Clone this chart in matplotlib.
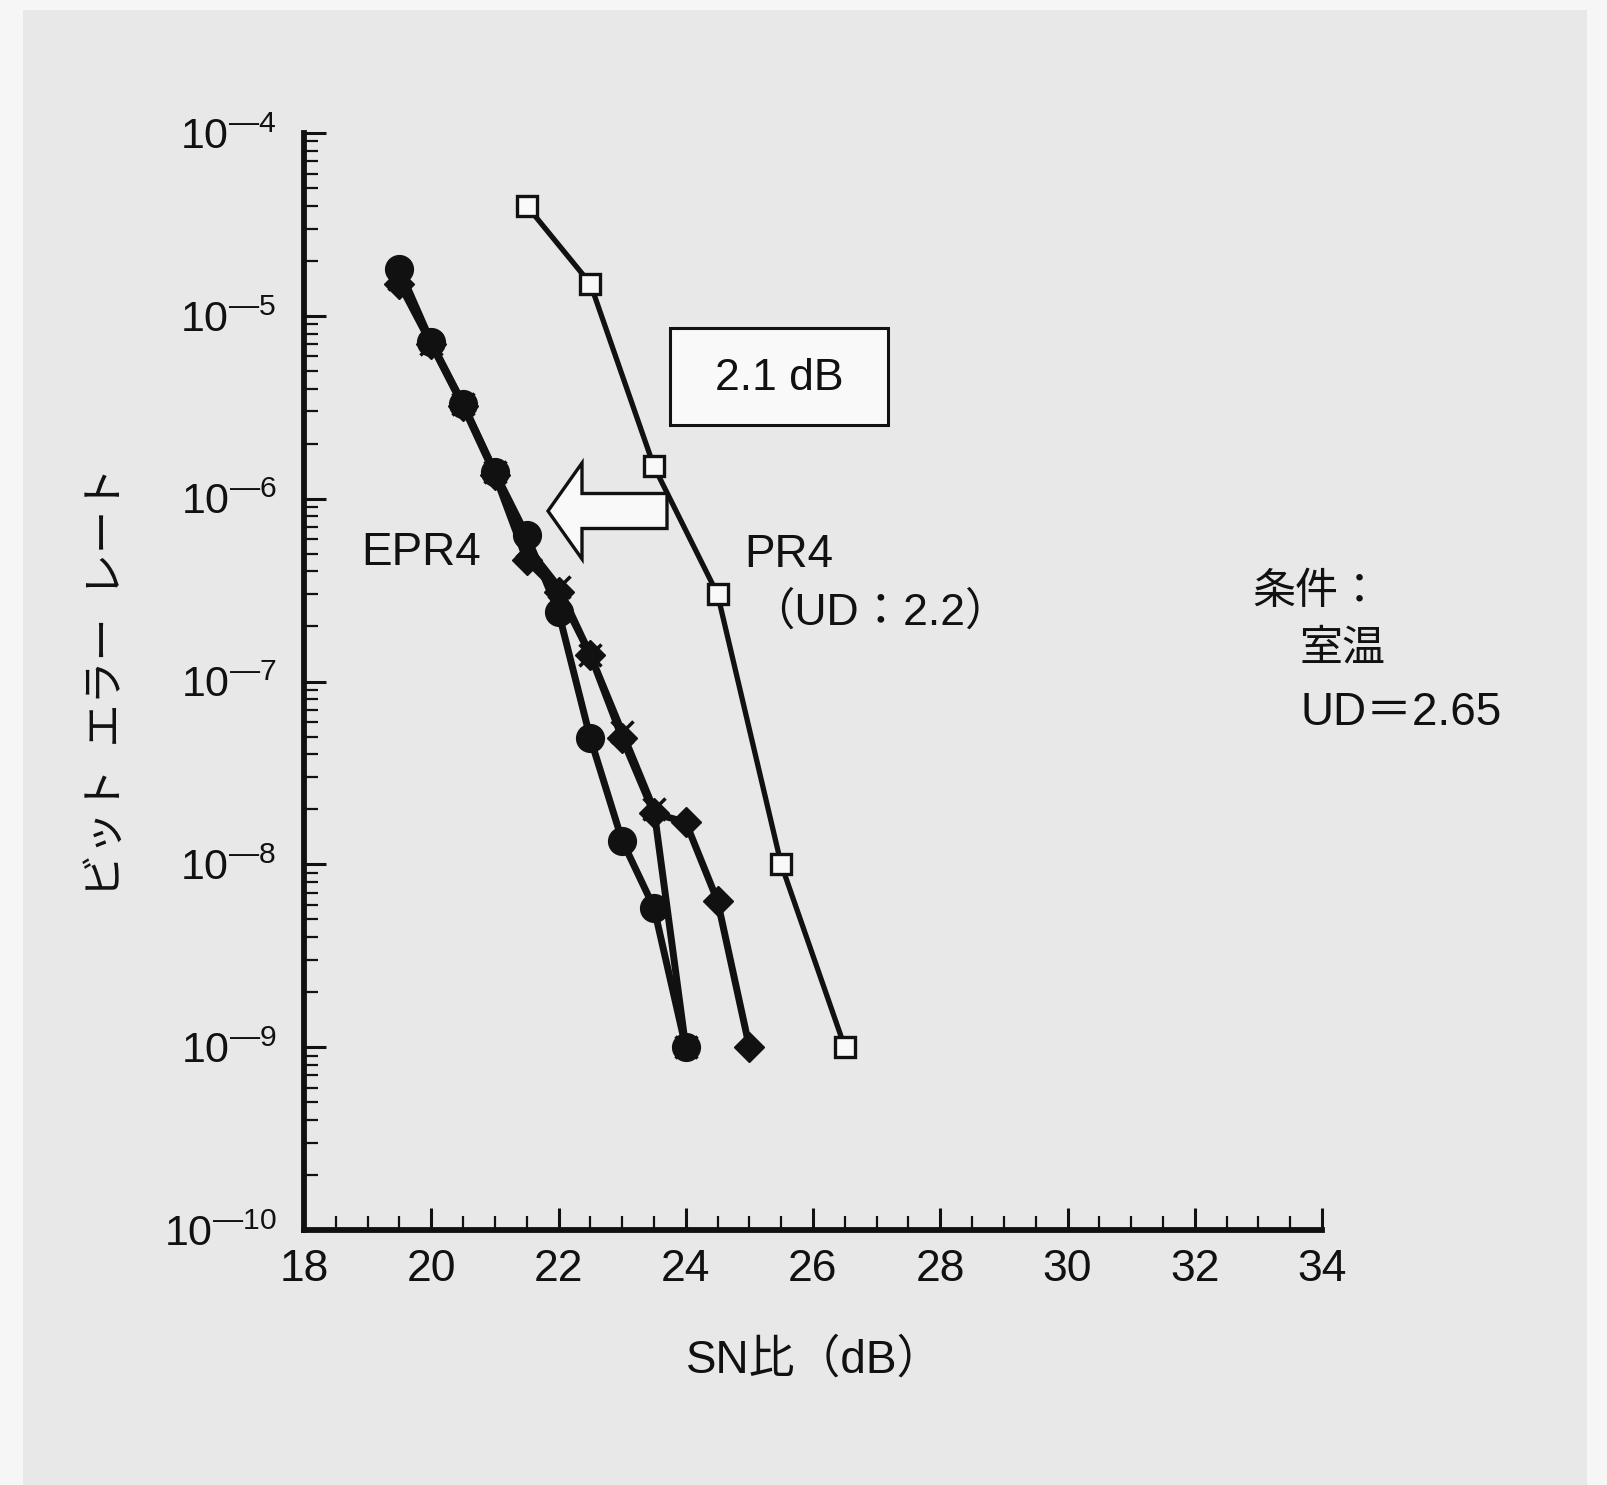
import matplotlib
matplotlib.use('Agg')
import matplotlib.pyplot as plt
from matplotlib.ticker import MultipleLocator, FixedLocator, NullFormatter, FixedFormatter
from matplotlib.patches import Rectangle, Polygon

# ---------------- data ----------------
sn_pr4 = [21.5, 22.5, 23.5, 24.5, 25.5, 26.5]
ber_pr4 = [4.0e-5, 1.5e-5, 1.5e-6, 3.0e-7, 1.0e-8, 1.0e-9]

sn_epr4_circle = [19.5, 20.0, 20.5, 21.0, 21.5, 22.0, 22.5, 23.0, 23.5, 24.0]
ber_epr4_circle = [1.8e-5, 7.2e-6, 3.3e-6, 1.4e-6, 6.3e-7, 2.4e-7, 4.9e-8, 1.35e-8, 5.8e-9, 1.0e-9]

sn_epr4_diamond = [19.5, 20.0, 20.5, 21.0, 21.5, 22.0, 22.5, 23.0, 23.5, 24.0, 24.5, 25.0]
ber_epr4_diamond = [1.5e-5, 7.0e-6, 3.2e-6, 1.35e-6, 4.6e-7, 3.1e-7, 1.4e-7, 4.9e-8, 1.9e-8, 1.7e-8, 6.3e-9, 1.0e-9]

sn_epr4_cross = [19.5, 20.0, 20.5, 21.0, 21.5, 22.0, 22.5, 23.0, 23.5, 24.0]
ber_epr4_cross = [1.6e-5, 7.0e-6, 3.3e-6, 1.4e-6, 5.5e-7, 3.3e-7, 1.4e-7, 5.3e-8, 2.0e-8, 1.0e-9]

x_ticks = [18, 20, 22, 24, 26, 28, 30, 32, 34]
x_tick_labels = ['18', '20', '22', '24', '26', '28', '30', '32', '34']
y_exponents = [-10, -9, -8, -7, -6, -5, -4]

# ---------------- style ----------------
W, H, DPI = 1607, 1485, 100
LATIN = 'Liberation Sans'
MIXED = ['Liberation Sans', 'Noto Sans CJK JP']
plt.rcParams['font.family'] = MIXED
plt.rcParams['mathtext.fontset'] = 'custom'
plt.rcParams['mathtext.rm'] = LATIN
plt.rcParams['mathtext.it'] = LATIN + ':italic'
plt.rcParams['mathtext.bf'] = LATIN + ':bold'

INK = '#111111'
PANEL = '#e8e8e8'
OUTER = '#f6f6f6'
WHITE = '#f9f9f9'

fig = plt.figure(figsize=(W / DPI, H / DPI), dpi=DPI, facecolor=OUTER)


def fp(x, y):
    """figure pixel (from top-left) -> figure fraction"""
    return x / W, 1 - y / H


# gray panel
px0, py0 = fp(23, 1485)
px1, py1 = fp(1587, 10)
fig.add_artist(Rectangle((px0, py0), px1 - px0, py1 - py0, transform=fig.transFigure,
                         facecolor=PANEL, edgecolor='none', zorder=0))

ax_l, ax_t = fp(304, 133)
ax_r, ax_b = fp(1322, 1230)
ax = fig.add_axes([ax_l, ax_b, ax_r - ax_l, ax_t - ax_b])
ax.set_facecolor('none')

ax.set_yscale('log')
ax.set_xlim(18, 34)
ax.set_ylim(1e-10, 1e-4)

for s in ['top', 'right']:
    ax.spines[s].set_visible(False)
for s in ['left', 'bottom']:
    ax.spines[s].set_linewidth(4.2)
    ax.spines[s].set_color(INK)
    ax.spines[s].set_capstyle('projecting')

# x ticks
ax.xaxis.set_major_locator(FixedLocator(x_ticks))
ax.xaxis.set_major_formatter(FixedFormatter(x_tick_labels))
ax.xaxis.set_minor_locator(MultipleLocator(0.5))
# y ticks
yt = [10.0 ** e for e in y_exponents]
ax.yaxis.set_major_locator(FixedLocator(yt))
ax.yaxis.set_major_formatter(FixedFormatter(['$10^{\u2014%d}$' % abs(e) for e in y_exponents]))
minors = [m * 10.0 ** e for e in y_exponents[:-1] for m in range(2, 10)]
ax.yaxis.set_minor_locator(FixedLocator(minors))
ax.yaxis.set_minor_formatter(NullFormatter())

ax.tick_params(axis='both', which='major', direction='in', length=16, width=2.2, color=INK)
ax.tick_params(axis='both', which='minor', direction='in', length=10, width=1.6, color=INK)
ax.tick_params(axis='x', which='major', labelsize=32, pad=14, labelcolor=INK)
ax.tick_params(axis='y', which='major', labelsize=31, pad=20, labelcolor=INK)
for lab in ax.get_xticklabels() + ax.get_yticklabels():
    lab.set_fontfamily(LATIN)

# ---------------- series ----------------
ax.plot(sn_pr4, ber_pr4, color=INK, lw=3.8, marker='s', ms=14, mfc=WHITE,
        mec=INK, mew=2.4, zorder=5, clip_on=False)
ax.plot(sn_epr4_cross, ber_epr4_cross, color=INK, lw=5, marker='x', ms=16,
        mew=2.5, mec=INK, zorder=4, clip_on=False)
ax.plot(sn_epr4_diamond, ber_epr4_diamond, color=INK, lw=5, marker='D', ms=15,
        mfc=INK, mec=INK, zorder=5, clip_on=False)
ax.plot(sn_epr4_circle, ber_epr4_circle, color=INK, lw=5, marker='o', ms=20,
        mfc=INK, mec=INK, zorder=6, clip_on=False)

# ---------------- annotations ----------------
# 2.1 dB box
bx0, by0 = fp(670, 425)
bx1, by1 = fp(888, 328)
fig.add_artist(Rectangle((bx0, by0), bx1 - bx0, by1 - by0, transform=fig.transFigure,
                         facecolor=WHITE, edgecolor=INK, lw=2.2, zorder=7))
fig.text(*fp(779, 378), '2.1 dB', fontsize=32, family=LATIN, ha='center', va='center',
         color=INK, zorder=8)

# block arrow (pointing left)
tip_x, head_x, tail_x, yc = 548, 582, 667, 511
head_half, shaft_half = 48, 17.5
arrow_pts = [fp(tip_x, yc), fp(head_x, yc - head_half), fp(head_x, yc - shaft_half),
             fp(tail_x, yc - shaft_half), fp(tail_x, yc + shaft_half),
             fp(head_x, yc + shaft_half), fp(head_x, yc + head_half)]
fig.add_artist(Polygon(arrow_pts, closed=True, transform=fig.transFigure,
                       facecolor=WHITE, edgecolor=INK, lw=2.4, joinstyle='miter', zorder=7))

fig.text(*fp(421, 553), 'EPR4', fontsize=33, family=LATIN, ha='center', va='center', color=INK)
fig.text(*fp(789, 555), 'PR4', fontsize=33, family=LATIN, ha='center', va='center', color=INK)
fig.text(*fp(880, 613), '（UD：2.2）', fontsize=32, family=MIXED, ha='center', va='center',
         color=INK)

fig.text(*fp(1252, 593), '条件：', fontsize=31, family=MIXED, ha='left', va='center', color=INK)
fig.text(*fp(1300, 649), '室温', fontsize=31, family=MIXED, ha='left', va='center', color=INK)
fig.text(*fp(1300, 713), 'UD＝2.65', fontsize=33, family=MIXED, ha='left', va='center',
         color=INK)

# axis labels
fig.text(*fp(815, 1361), 'SN比（dB）', fontsize=33, family=MIXED, ha='center', va='center',
         color=INK)
fig.text(*fp(108, 682), 'ビット\u2002エラー\u2002レート', fontsize=31, family=MIXED, rotation=90,
         ha='center', va='center', color=INK)

fig.savefig('out.png', dpi=DPI, facecolor=OUTER)
